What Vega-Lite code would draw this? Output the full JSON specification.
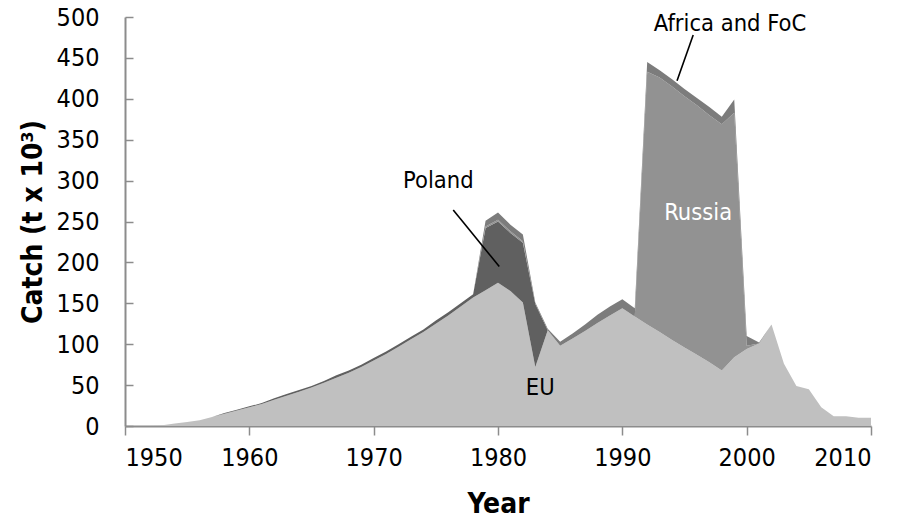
{
  "$schema": "https://vega.github.io/schema/vega-lite/v6.json",
  "width": 746,
  "height": 409,
  "autosize": {"type": "none"},
  "padding": {"left": 125, "top": 17, "right": 34, "bottom": 92},
  "background": "white",
  "config": {
    "view": {"stroke": null},
    "font": "DejaVu Sans Condensed, DejaVu Sans",
    "axis": {
      "grid": false,
      "domainColor": "#8c8c8c",
      "domainWidth": 2,
      "tickColor": "#8c8c8c",
      "tickWidth": 1.5,
      "labelFont": "DejaVu Sans Condensed, DejaVu Sans",
      "labelFontSize": 25,
      "labelColor": "#000000",
      "titleFont": "DejaVu Sans Condensed, DejaVu Sans",
      "titleFontSize": 28,
      "titleFontWeight": "bold",
      "titleColor": "#000000"
    }
  },
  "datasets": {
    "catch": [
      {"year": 1950, "series": "EU", "catch": 0}, {"year": 1951, "series": "EU", "catch": 0}, {"year": 1952, "series": "EU", "catch": 0}, {"year": 1953, "series": "EU", "catch": 1}, {"year": 1954, "series": "EU", "catch": 3}, {"year": 1955, "series": "EU", "catch": 5}, {"year": 1956, "series": "EU", "catch": 7}, {"year": 1957, "series": "EU", "catch": 11}, {"year": 1958, "series": "EU", "catch": 15}, {"year": 1959, "series": "EU", "catch": 19},
      {"year": 1960, "series": "EU", "catch": 23}, {"year": 1961, "series": "EU", "catch": 27}, {"year": 1962, "series": "EU", "catch": 32}, {"year": 1963, "series": "EU", "catch": 37}, {"year": 1964, "series": "EU", "catch": 42}, {"year": 1965, "series": "EU", "catch": 47}, {"year": 1966, "series": "EU", "catch": 53}, {"year": 1967, "series": "EU", "catch": 59}, {"year": 1968, "series": "EU", "catch": 65}, {"year": 1969, "series": "EU", "catch": 72},
      {"year": 1970, "series": "EU", "catch": 80}, {"year": 1971, "series": "EU", "catch": 88}, {"year": 1972, "series": "EU", "catch": 97}, {"year": 1973, "series": "EU", "catch": 106}, {"year": 1974, "series": "EU", "catch": 115}, {"year": 1975, "series": "EU", "catch": 125}, {"year": 1976, "series": "EU", "catch": 135}, {"year": 1977, "series": "EU", "catch": 146}, {"year": 1978, "series": "EU", "catch": 157}, {"year": 1979, "series": "EU", "catch": 166},
      {"year": 1980, "series": "EU", "catch": 175}, {"year": 1981, "series": "EU", "catch": 165}, {"year": 1982, "series": "EU", "catch": 151}, {"year": 1983, "series": "EU", "catch": 72}, {"year": 1984, "series": "EU", "catch": 117}, {"year": 1985, "series": "EU", "catch": 98}, {"year": 1986, "series": "EU", "catch": 107}, {"year": 1987, "series": "EU", "catch": 116}, {"year": 1988, "series": "EU", "catch": 126}, {"year": 1989, "series": "EU", "catch": 135},
      {"year": 1990, "series": "EU", "catch": 144}, {"year": 1991, "series": "EU", "catch": 134}, {"year": 1992, "series": "EU", "catch": 124}, {"year": 1993, "series": "EU", "catch": 115}, {"year": 1994, "series": "EU", "catch": 105}, {"year": 1995, "series": "EU", "catch": 96}, {"year": 1996, "series": "EU", "catch": 87}, {"year": 1997, "series": "EU", "catch": 78}, {"year": 1998, "series": "EU", "catch": 68}, {"year": 1999, "series": "EU", "catch": 84},
      {"year": 2000, "series": "EU", "catch": 94}, {"year": 2001, "series": "EU", "catch": 101}, {"year": 2002, "series": "EU", "catch": 124}, {"year": 2003, "series": "EU", "catch": 76}, {"year": 2004, "series": "EU", "catch": 49}, {"year": 2005, "series": "EU", "catch": 45}, {"year": 2006, "series": "EU", "catch": 23}, {"year": 2007, "series": "EU", "catch": 12}, {"year": 2008, "series": "EU", "catch": 12}, {"year": 2009, "series": "EU", "catch": 10}, {"year": 2010, "series": "EU", "catch": 10},

      {"year": 1950, "series": "Poland", "catch": 0}, {"year": 1951, "series": "Poland", "catch": 0}, {"year": 1952, "series": "Poland", "catch": 0}, {"year": 1953, "series": "Poland", "catch": 0}, {"year": 1954, "series": "Poland", "catch": 0}, {"year": 1955, "series": "Poland", "catch": 0}, {"year": 1956, "series": "Poland", "catch": 0}, {"year": 1957, "series": "Poland", "catch": 0}, {"year": 1958, "series": "Poland", "catch": 1}, {"year": 1959, "series": "Poland", "catch": 1},
      {"year": 1960, "series": "Poland", "catch": 1}, {"year": 1961, "series": "Poland", "catch": 1}, {"year": 1962, "series": "Poland", "catch": 2}, {"year": 1963, "series": "Poland", "catch": 2}, {"year": 1964, "series": "Poland", "catch": 2}, {"year": 1965, "series": "Poland", "catch": 2}, {"year": 1966, "series": "Poland", "catch": 2}, {"year": 1967, "series": "Poland", "catch": 3}, {"year": 1968, "series": "Poland", "catch": 3}, {"year": 1969, "series": "Poland", "catch": 3},
      {"year": 1970, "series": "Poland", "catch": 3}, {"year": 1971, "series": "Poland", "catch": 3}, {"year": 1972, "series": "Poland", "catch": 3}, {"year": 1973, "series": "Poland", "catch": 3}, {"year": 1974, "series": "Poland", "catch": 3}, {"year": 1975, "series": "Poland", "catch": 4}, {"year": 1976, "series": "Poland", "catch": 4}, {"year": 1977, "series": "Poland", "catch": 4}, {"year": 1978, "series": "Poland", "catch": 4}, {"year": 1979, "series": "Poland", "catch": 76},
      {"year": 1980, "series": "Poland", "catch": 75}, {"year": 1981, "series": "Poland", "catch": 71}, {"year": 1982, "series": "Poland", "catch": 73}, {"year": 1983, "series": "Poland", "catch": 77}, {"year": 1984, "series": "Poland", "catch": 0}, {"year": 1985, "series": "Poland", "catch": 0}, {"year": 1986, "series": "Poland", "catch": 0}, {"year": 1987, "series": "Poland", "catch": 0}, {"year": 1988, "series": "Poland", "catch": 0}, {"year": 1989, "series": "Poland", "catch": 0},
      {"year": 1990, "series": "Poland", "catch": 0}, {"year": 1991, "series": "Poland", "catch": 0}, {"year": 1992, "series": "Poland", "catch": 0}, {"year": 1993, "series": "Poland", "catch": 0}, {"year": 1994, "series": "Poland", "catch": 0}, {"year": 1995, "series": "Poland", "catch": 0}, {"year": 1996, "series": "Poland", "catch": 0}, {"year": 1997, "series": "Poland", "catch": 0}, {"year": 1998, "series": "Poland", "catch": 0}, {"year": 1999, "series": "Poland", "catch": 0},
      {"year": 2000, "series": "Poland", "catch": 0}, {"year": 2001, "series": "Poland", "catch": 0}, {"year": 2002, "series": "Poland", "catch": 0}, {"year": 2003, "series": "Poland", "catch": 0}, {"year": 2004, "series": "Poland", "catch": 0}, {"year": 2005, "series": "Poland", "catch": 0}, {"year": 2006, "series": "Poland", "catch": 0}, {"year": 2007, "series": "Poland", "catch": 0}, {"year": 2008, "series": "Poland", "catch": 0}, {"year": 2009, "series": "Poland", "catch": 0}, {"year": 2010, "series": "Poland", "catch": 0},

      {"year": 1950, "series": "Russia", "catch": 0}, {"year": 1951, "series": "Russia", "catch": 0}, {"year": 1952, "series": "Russia", "catch": 0}, {"year": 1953, "series": "Russia", "catch": 0}, {"year": 1954, "series": "Russia", "catch": 0}, {"year": 1955, "series": "Russia", "catch": 0}, {"year": 1956, "series": "Russia", "catch": 0}, {"year": 1957, "series": "Russia", "catch": 0}, {"year": 1958, "series": "Russia", "catch": 0}, {"year": 1959, "series": "Russia", "catch": 0},
      {"year": 1960, "series": "Russia", "catch": 0}, {"year": 1961, "series": "Russia", "catch": 0}, {"year": 1962, "series": "Russia", "catch": 0}, {"year": 1963, "series": "Russia", "catch": 0}, {"year": 1964, "series": "Russia", "catch": 0}, {"year": 1965, "series": "Russia", "catch": 0}, {"year": 1966, "series": "Russia", "catch": 0}, {"year": 1967, "series": "Russia", "catch": 0}, {"year": 1968, "series": "Russia", "catch": 0}, {"year": 1969, "series": "Russia", "catch": 0},
      {"year": 1970, "series": "Russia", "catch": 0}, {"year": 1971, "series": "Russia", "catch": 0}, {"year": 1972, "series": "Russia", "catch": 0}, {"year": 1973, "series": "Russia", "catch": 0}, {"year": 1974, "series": "Russia", "catch": 0}, {"year": 1975, "series": "Russia", "catch": 0}, {"year": 1976, "series": "Russia", "catch": 0}, {"year": 1977, "series": "Russia", "catch": 0}, {"year": 1978, "series": "Russia", "catch": 0}, {"year": 1979, "series": "Russia", "catch": 2},
      {"year": 1980, "series": "Russia", "catch": 2}, {"year": 1981, "series": "Russia", "catch": 2}, {"year": 1982, "series": "Russia", "catch": 2}, {"year": 1983, "series": "Russia", "catch": 0}, {"year": 1984, "series": "Russia", "catch": 0}, {"year": 1985, "series": "Russia", "catch": 0}, {"year": 1986, "series": "Russia", "catch": 0}, {"year": 1987, "series": "Russia", "catch": 0}, {"year": 1988, "series": "Russia", "catch": 0}, {"year": 1989, "series": "Russia", "catch": 0},
      {"year": 1990, "series": "Russia", "catch": 0}, {"year": 1991, "series": "Russia", "catch": 0}, {"year": 1992, "series": "Russia", "catch": 309}, {"year": 1993, "series": "Russia", "catch": 311}, {"year": 1994, "series": "Russia", "catch": 310}, {"year": 1995, "series": "Russia", "catch": 307}, {"year": 1996, "series": "Russia", "catch": 305}, {"year": 1997, "series": "Russia", "catch": 302}, {"year": 1998, "series": "Russia", "catch": 301}, {"year": 1999, "series": "Russia", "catch": 299},
      {"year": 2000, "series": "Russia", "catch": 4}, {"year": 2001, "series": "Russia", "catch": 0}, {"year": 2002, "series": "Russia", "catch": 0}, {"year": 2003, "series": "Russia", "catch": 0}, {"year": 2004, "series": "Russia", "catch": 0}, {"year": 2005, "series": "Russia", "catch": 0}, {"year": 2006, "series": "Russia", "catch": 0}, {"year": 2007, "series": "Russia", "catch": 0}, {"year": 2008, "series": "Russia", "catch": 0}, {"year": 2009, "series": "Russia", "catch": 0}, {"year": 2010, "series": "Russia", "catch": 0},

      {"year": 1950, "series": "Africa and FoC", "catch": 0}, {"year": 1951, "series": "Africa and FoC", "catch": 0}, {"year": 1952, "series": "Africa and FoC", "catch": 0}, {"year": 1953, "series": "Africa and FoC", "catch": 0}, {"year": 1954, "series": "Africa and FoC", "catch": 0}, {"year": 1955, "series": "Africa and FoC", "catch": 0}, {"year": 1956, "series": "Africa and FoC", "catch": 0}, {"year": 1957, "series": "Africa and FoC", "catch": 0}, {"year": 1958, "series": "Africa and FoC", "catch": 0}, {"year": 1959, "series": "Africa and FoC", "catch": 0},
      {"year": 1960, "series": "Africa and FoC", "catch": 0}, {"year": 1961, "series": "Africa and FoC", "catch": 0}, {"year": 1962, "series": "Africa and FoC", "catch": 0}, {"year": 1963, "series": "Africa and FoC", "catch": 0}, {"year": 1964, "series": "Africa and FoC", "catch": 0}, {"year": 1965, "series": "Africa and FoC", "catch": 0}, {"year": 1966, "series": "Africa and FoC", "catch": 0}, {"year": 1967, "series": "Africa and FoC", "catch": 0}, {"year": 1968, "series": "Africa and FoC", "catch": 0}, {"year": 1969, "series": "Africa and FoC", "catch": 0},
      {"year": 1970, "series": "Africa and FoC", "catch": 0}, {"year": 1971, "series": "Africa and FoC", "catch": 0}, {"year": 1972, "series": "Africa and FoC", "catch": 0}, {"year": 1973, "series": "Africa and FoC", "catch": 0}, {"year": 1974, "series": "Africa and FoC", "catch": 0}, {"year": 1975, "series": "Africa and FoC", "catch": 0}, {"year": 1976, "series": "Africa and FoC", "catch": 0}, {"year": 1977, "series": "Africa and FoC", "catch": 0}, {"year": 1978, "series": "Africa and FoC", "catch": 0}, {"year": 1979, "series": "Africa and FoC", "catch": 7},
      {"year": 1980, "series": "Africa and FoC", "catch": 9}, {"year": 1981, "series": "Africa and FoC", "catch": 8}, {"year": 1982, "series": "Africa and FoC", "catch": 8}, {"year": 1983, "series": "Africa and FoC", "catch": 2}, {"year": 1984, "series": "Africa and FoC", "catch": 2}, {"year": 1985, "series": "Africa and FoC", "catch": 5}, {"year": 1986, "series": "Africa and FoC", "catch": 6}, {"year": 1987, "series": "Africa and FoC", "catch": 8}, {"year": 1988, "series": "Africa and FoC", "catch": 10}, {"year": 1989, "series": "Africa and FoC", "catch": 11},
      {"year": 1990, "series": "Africa and FoC", "catch": 11}, {"year": 1991, "series": "Africa and FoC", "catch": 10}, {"year": 1992, "series": "Africa and FoC", "catch": 12}, {"year": 1993, "series": "Africa and FoC", "catch": 9}, {"year": 1994, "series": "Africa and FoC", "catch": 9}, {"year": 1995, "series": "Africa and FoC", "catch": 9}, {"year": 1996, "series": "Africa and FoC", "catch": 9}, {"year": 1997, "series": "Africa and FoC", "catch": 10}, {"year": 1998, "series": "Africa and FoC", "catch": 9}, {"year": 1999, "series": "Africa and FoC", "catch": 16},
      {"year": 2000, "series": "Africa and FoC", "catch": 12}, {"year": 2001, "series": "Africa and FoC", "catch": 1}, {"year": 2002, "series": "Africa and FoC", "catch": 0}, {"year": 2003, "series": "Africa and FoC", "catch": 0}, {"year": 2004, "series": "Africa and FoC", "catch": 0}, {"year": 2005, "series": "Africa and FoC", "catch": 0}, {"year": 2006, "series": "Africa and FoC", "catch": 0}, {"year": 2007, "series": "Africa and FoC", "catch": 0}, {"year": 2008, "series": "Africa and FoC", "catch": 0}, {"year": 2009, "series": "Africa and FoC", "catch": 0}, {"year": 2010, "series": "Africa and FoC", "catch": 0}
    ],
    "leaders": [
      {"year": 1976.4, "catch": 264, "year2": 1980.1, "catch2": 195},
      {"year": 1995.7, "catch": 478, "year2": 1994.4, "catch2": 422}
    ],
    "labels": [
      {"year": 1975.2, "catch": 300, "label": "Poland", "tone": "dark"},
      {"year": 1983.4, "catch": 47, "label": "EU", "tone": "dark"},
      {"year": 1996.1, "catch": 260, "label": "Russia", "tone": "light"},
      {"year": 1998.66, "catch": 491, "label": "Africa and FoC", "tone": "dark"}
    ]
  },
  "layer": [
    {
      "data": {"name": "catch"},
      "transform": [
        {"calculate": "indexof(['EU','Poland','Russia','Africa and FoC'], datum.series)", "as": "stackRank"}
      ],
      "mark": {"type": "area", "interpolate": "linear"},
      "encoding": {
        "x": {
          "field": "year", "type": "quantitative",
          "scale": {"domain": [1950, 2010], "nice": false, "zero": false},
          "axis": {"title": "Year", "values": [1950, 1960, 1970, 1980, 1990, 2000, 2010], "format": "d", "tickSize": 9, "labelPadding": 10, "titleX": 373, "titleY": 86, "titleBaseline": "alphabetic", "titleAlign": "center"}
        },
        "y": {
          "field": "catch", "type": "quantitative", "stack": "zero",
          "scale": {"domain": [0, 500], "nice": false},
          "axis": {"title": "Catch (t x 10³)", "values": [0, 50, 100, 150, 200, 250, 300, 350, 400, 450, 500], "tickSize": -8, "labelPadding": 34, "titleX": -92, "titleY": 204.5, "titleBaseline": "middle", "titleAlign": "center", "titleAngle": -90}
        },
        "color": {
          "field": "series", "type": "nominal",
          "scale": {"domain": ["EU", "Poland", "Russia", "Africa and FoC"], "range": ["#c0c0c0", "#606060", "#929292", "#7c7c7c"]},
          "legend": null
        },
        "order": {"field": "stackRank", "type": "quantitative", "sort": "ascending"}
      }
    },
    {
      "data": {"name": "leaders"},
      "mark": {"type": "rule", "color": "#000000", "strokeWidth": 1.6},
      "encoding": {
        "x": {"field": "year", "type": "quantitative", "title": "Year"},
        "y": {"field": "catch", "type": "quantitative", "title": "Catch (t x 10³)"},
        "x2": {"field": "year2"},
        "y2": {"field": "catch2"}
      }
    },
    {
      "data": {"name": "labels"},
      "mark": {"type": "text", "fontSize": 23.5, "align": "center", "baseline": "middle", "font": "DejaVu Sans Condensed, DejaVu Sans"},
      "encoding": {
        "x": {"field": "year", "type": "quantitative", "title": "Year"},
        "y": {"field": "catch", "type": "quantitative", "title": "Catch (t x 10³)"},
        "text": {"field": "label", "type": "nominal"},
        "color": {
          "field": "tone", "type": "nominal",
          "scale": {"domain": ["dark", "light"], "range": ["#000000", "#ffffff"]},
          "legend": null
        }
      }
    }
  ],
  "resolve": {"scale": {"color": "independent"}}
}
